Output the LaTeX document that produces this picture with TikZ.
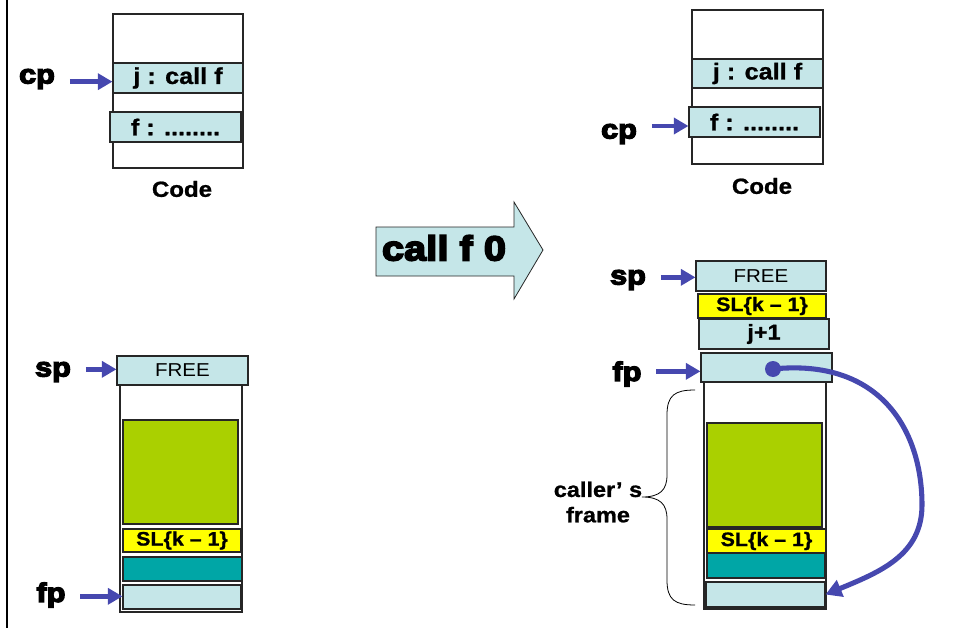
\documentclass[tikz,border=0pt]{standalone}
\usepackage{fontspec}
\setmainfont{Liberation Sans}[FakeStretch=1.1, BoldFeatures={FakeBold=1}]
\newfontfamily\heavy{Liberation Sans}[FakeStretch=1.15, UprightFont={* Bold}, UprightFeatures={FakeBold=5}]
\usetikzlibrary{fit,arrows.meta}
\definecolor{lcyan}{RGB}{197,230,232}
\definecolor{lgreen}{RGB}{170,208,0}
\definecolor{tealc}{RGB}{0,166,166}
\definecolor{yel}{RGB}{255,255,0}
\definecolor{ablue}{RGB}{70,72,175}
\tikzset{
  frame/.style={draw=black!85, line width=0.8pt, inner sep=0pt},
  cell/.style={draw=black!85, line width=0.8pt, fill=lcyan, inner sep=0pt},
  ycell/.style={cell, fill=yel},
  gcell/.style={cell, fill=lgreen},
  tcell/.style={cell, fill=tealc},
  btxt/.style={font=\fontsize{14.6}{16}\selectfont\bfseries},
  ctxt/.style={font=\fontsize{17.2}{19}\selectfont\bfseries},
  rtxt/.style={font=\fontsize{14}{16}\selectfont},
  ptrlbl/.style={font=\heavy\fontsize{20}{22}\selectfont, inner sep=0pt},
  ptr/.style={ablue, line width=3.5pt, -{Triangle[length=11pt,width=12pt]}, shorten <=11pt},
}
\begin{document}
\begin{tikzpicture}[x=0.75pt,y=-0.75pt]
\useasboundingbox (0,0) rectangle (954,628);
\draw[line width=1.6pt] (7,0) -- (7,628);

% ---- left code ----
\node[frame, fit={(113,14) (243,168)}] (codeL) {};
\node[cell, fit={(113,63) (243,93)}, label={[ctxt]center:j : call f}] (jL) {};
\node[cell, fit={(110,112) (241,142)}, label={[ctxt]center:f : ........}] (fL) {};
\node[font=\fontsize{16.4}{18}\selectfont\bfseries] (codeLtxt) at (182,189) {Code};
\node[ptrlbl] (cpL) at (37,79) {cp};
\draw[ptr] ([yshift=-2pt]cpL.east) -- ([yshift=-2pt]cpL.east -| jL.west);

% ---- left stack ----
\node[frame, fit={(120,385) (242,612)}] (stackL) {};
\node[cell, fit={(117,356) (248,385)}, label={[rtxt]center:FREE}] (freeL) {};
\node[gcell, fit={(123,420) (238,524)}] (greenL) {};
\node[ycell, fit={(123,529) (241,552)}, label={[btxt]center:SL\{k -- 1\}}] (slL) {};
\node[tcell, fit={(123,557) (242,581)}] (tealL) {};
\node[cell, fit={(123,585) (241,609)}] (botL) {};
\node[ptrlbl] (spL) at (53,372) {sp};
\draw[ptr] ([yshift=2pt]spL.east) -- ([yshift=2pt]spL.east -| freeL.west);
\node[ptrlbl] (fpL) at (51,595) {fp};
\draw[ptr] ([yshift=-1pt]fpL.east) -- ([yshift=-1pt]fpL.east -| botL.west);

% ---- middle arrow ----
\draw[fill=lcyan, draw=black!85, line width=0.6pt]
  (376,227) -- (514,227) -- (514,202) -- (543,250) -- (514,299) -- (514,276) -- (376,276) -- cycle;
\node[font=\heavy\fontsize{26}{30}\selectfont] (call) at (444,248) {call f 0};

% ---- right code ----
\node[frame, fit={(692,10) (823,164)}] (codeR) {};
\node[cell, fit={(692,59) (823,88)}, label={[ctxt]center:j : call f}] (jR) {};
\node[cell, fit={(689,107) (820,137)}, label={[ctxt]center:f : ........}] (fR) {};
\node[font=\fontsize{16.4}{18}\selectfont\bfseries] (codeRtxt) at (762,186) {Code};
\node[ptrlbl] (cpR) at (619,134) {cp};
\draw[ptr] ([yshift=6pt]cpR.east) -- ([yshift=6pt]cpR.east -| fR.west);

% ---- right stack ----
\node[frame, fit={(704,382) (826,609)}] (stackR) {};
\node[cell, fit={(696,261) (826,291)}, label={[rtxt]center:FREE}] (freeR) {};
\node[ycell, fit={(698,294) (826,318)}, label={[btxt]center:SL\{k -- 1\}}] (slR1) {};
\node[cell, fit={(699,319) (829,349)}, label={[font=\fontsize{16}{18}\selectfont\bfseries]center:j+1}] (jp1) {};
\node[cell, fit={(701,353) (832,382)}] (fpbox) {};
\node[gcell, fit={(707,423) (822,527)}] (greenR) {};
\node[ycell, fit={(707,529) (826,553)}, label={[btxt]center:SL\{k -- 1\}}] (slR2) {};
\node[tcell, fit={(707,553) (825,578)}] (tealR) {};
\node[cell, fit={(706,582) (825,607)}] (botR) {};
\node[ptrlbl] (spR) at (628,280) {sp};
\draw[ptr] ([yshift=2pt]spR.east) -- ([yshift=2pt]spR.east -| freeR.west);
\node[ptrlbl] (fpR) at (627,374) {fp};
\draw[ptr] ([yshift=2pt]fpR.east) -- ([yshift=2pt]fpR.east -| fpbox.west);

% brace
\draw[line width=0.6pt] (695,390) .. controls (675,390) and (667,395) .. (667,415)
  -- (667,475) .. controls (667,490) and (660,497) .. (642,497)
  .. controls (660,497) and (667,504) .. (667,519)
  -- (667,580) .. controls (667,600) and (675,605) .. (695,605);
\node[font=\fontsize{16}{19}\selectfont\bfseries, align=center] (caller) at (598,502) {caller’ s\\frame};

% curved pointer
\node[circle, fill=ablue, inner sep=0pt, minimum size=12pt] (dot) at (773,369) {};
\draw[ablue, line width=3.8pt, -{Triangle[length=12pt,width=13pt]}]
  (dot.center) .. controls (880,358) and (922,430) .. (922,505)
  .. controls (922,555) and (880,572) .. (botR.east);
\end{tikzpicture}
\end{document}
